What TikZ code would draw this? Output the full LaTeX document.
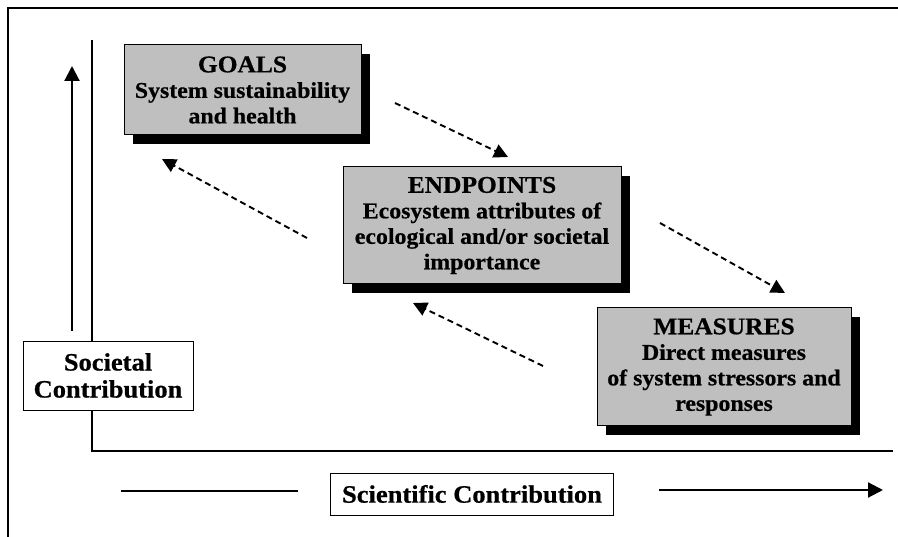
\documentclass[tikz,border=0pt]{standalone}
\usepackage{fontspec}
\setmainfont{Liberation Serif}[FakeStretch=1.06,BoldFeatures={FakeBold=0.6}]
\usetikzlibrary{arrows.meta,shadows}
\newcommand\boxtitle{\fontsize{24}{26}\selectfont}

\begin{document}
\begin{tikzpicture}[x=1pt,y=-1pt,
	box/.style={draw,line width=1pt,fill=black!25,align=center,inner sep=0pt,font=\fontsize{22.5}{25.5}\selectfont\bfseries,drop shadow={shadow xshift=9pt,shadow yshift=-9pt,fill=black,opacity=1}},
	axisbox/.style={draw,line width=0.9pt,fill=white,align=center,inner sep=0pt,font=\fontsize{25}{27}\selectfont\bfseries},
	dasharrow/.style={line width=1.9pt,dash pattern=on 6pt off 4pt,-{Triangle[length=14pt,width=14pt]}},
	axisline/.style={line width=2.2pt}]
	\useasboundingbox (0,0) rectangle (898,537);
	\draw[line width=1.2pt] (898,8)--(8,8)--(8,537);
	\coordinate (ytop) at (92,40);
	\coordinate (origin) at (92,451);
	\coordinate (xend) at (893,451);
	\draw[axisline] (ytop)--(origin)--(xend);
	\coordinate (upfoot) at (72,331);
	\coordinate (uptip) at (72,66);
	\draw[axisline,-{Triangle[length=15pt,width=15pt]}] (upfoot)--(uptip);
	\node (societal) at (108,375.5)[axisbox,minimum width=170pt,minimum height=69pt] {Societal\\Contribution};
	\node (scientific) at (472,494)[axisbox,minimum width=283pt,minimum height=42pt] {Scientific Contribution};
	\coordinate (lineL) at (121,491);
	\coordinate (lineR) at (298,491);
	\draw[axisline] (lineL)--(lineR);
	\coordinate (arrowL) at (659,490);
	\coordinate (arrowR) at (883,490);
	\draw[axisline,-{Triangle[length=15pt,width=15pt]}] (arrowL)--(arrowR);
	\node (goals) at (242.5,90)[box,minimum width=237pt,minimum height=90pt] {{\boxtitle GOALS}\\System sustainability\\and health};
	\node (endpoints) at (482,225.5)[box,minimum width=278pt,minimum height=117pt] {{\boxtitle ENDPOINTS}\\Ecosystem attributes of\\ecological and/or societal\\importance};
	\node (measures) at (724,367)[box,minimum width=254pt,minimum height=118pt] {{\boxtitle MEASURES}\\Direct measures\\of system stressors and\\responses};
	\coordinate (goalsout) at (395,103);
	\coordinate (endin) at (508,157);
	\coordinate (endback) at (307,238);
	\coordinate (goalsin) at (162,159);
	\coordinate (endout) at (660,223);
	\coordinate (measin) at (785,293);
	\coordinate (measback) at (543,366);
	\coordinate (endin2) at (413,303);
	\draw[dasharrow] (goalsout)--(endin);
	\draw[dasharrow] (endback)--(goalsin);
	\draw[dasharrow] (endout)--(measin);
	\draw[dasharrow] (measback)--(endin2);
\end{tikzpicture}
\end{document}
